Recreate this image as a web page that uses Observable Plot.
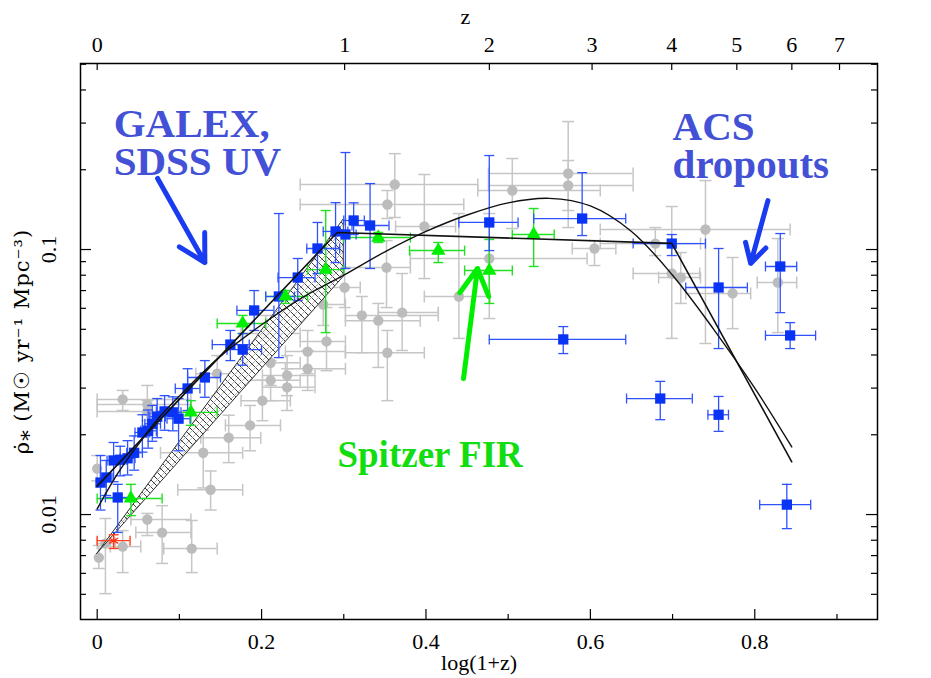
<!DOCTYPE html>
<html><head><meta charset="utf-8">
<script src="https://cdn.jsdelivr.net/npm/d3@7"></script>
<script src="https://cdn.jsdelivr.net/npm/@observablehq/plot@0.6"></script>
<style>
html,body{margin:0;padding:0;background:#fff;}
</style></head><body><div id="chart"></div>
<script>
// ---------- axis ticks ----------
const xMajorTicks = [0, 0.2, 0.4, 0.6, 0.8];
const xMajorLabels = ["0", "0.2", "0.4", "0.6", "0.8"];
const xMinorTicks = [0.1, 0.3, 0.5, 0.7, 0.9];
const zTicks = [0, 1, 2, 3, 4, 5, 6, 7];
const yMajorTicks = [0.01, 0.1];
const yMajorLabels = ["0.01", "0.1"];
const yMinorTicks = [0.005,0.006,0.007,0.008,0.009,0.02,0.03,0.04,0.05,0.06,0.07,0.08,0.09,0.2,0.3,0.4,0.5];

// ---------- grey compilation points (log(1+z), rho) ----------
const grayX   = [0.000,0.002,0.010,0.031,0.061,0.079,0.115,0.129,0.138,0.031,0.061,0.061,0.146,0.160,0.186,0.201,0.205,0.211,0.211,0.231,0.231,0.256,0.256,0.279,0.275,0.301,0.322,0.342,0.352,0.353,0.371,0.353,0.362,0.398,0.440,0.477,0.505,0.573,0.573,0.605,0.679,0.699,0.710,0.740,0.773,0.828];
const grayY   = [0.0149,0.00688,0.00778,0.00757,0.00958,0.00855,0.00744,0.0171,0.0124,0.0272,0.0260,0.0245,0.0340,0.0195,0.0217,0.0269,0.0482,0.0374,0.0321,0.0335,0.0302,0.0412,0.0355,0.0450,0.0620,0.0719,0.0564,0.0539,0.0855,0.0408,0.0578,0.1479,0.1759,0.1221,0.0665,0.0925,0.1670,0.1936,0.1744,0.1009,0.1053,0.0812,0.0784,0.1190,0.0683,0.0751];
const grayXlo = [0.000,0.002,0.000,0.016,0.041,0.047,0.081,0.077,0.098,0.000,0.000,0.000,0.120,0.126,0.156,0.175,0.175,0.175,0.180,0.201,0.201,0.229,0.229,0.247,0.247,0.247,0.302,0.302,0.300,0.302,0.342,0.247,0.247,0.363,0.398,0.381,0.463,0.476,0.476,0.578,0.612,0.652,0.683,0.612,0.716,0.803];
const grayXhi = [0.000,0.002,0.022,0.053,0.114,0.114,0.146,0.177,0.177,0.114,0.114,0.114,0.175,0.199,0.223,0.235,0.247,0.247,0.247,0.265,0.265,0.302,0.302,0.302,0.302,0.320,0.415,0.393,0.381,0.398,0.415,0.446,0.463,0.436,0.478,0.596,0.612,0.652,0.652,0.631,0.734,0.733,0.734,0.843,0.795,0.851];
const grayYlo = [0.0134,0.00626,0.00503,0.00604,0.00833,0.00654,0.00604,0.0126,0.0104,0.0247,0.0226,0.0217,0.0281,0.0157,0.0174,0.0226,0.0398,0.0307,0.0269,0.0281,0.0247,0.0340,0.0294,0.0349,0.0517,0.0604,0.0408,0.0359,0.0604,0.0269,0.0416,0.1309,0.1321,0.0777,0.0462,0.0549,0.1200,0.1210,0.1403,0.0870,0.0949,0.0462,0.0626,0.0442,0.0503,0.0486];
const grayYhi = [0.0167,0.00764,0.00966,0.00870,0.0101,0.0108,0.00950,0.0208,0.0146,0.0294,0.0307,0.0269,0.0398,0.0237,0.0258,0.0321,0.0564,0.0450,0.0381,0.0398,0.0355,0.0495,0.0416,0.0604,0.0732,0.0855,0.0665,0.0626,0.1081,0.0495,0.0812,0.1670,0.230,0.1919,0.1367,0.1367,0.2205,0.304,0.2167,0.1081,0.1210,0.1453,0.0974,0.1821,0.0933,0.1100];

// ---------- blue UV points (GALEX, SDSS, ACS dropouts) ----------
const blueX   = [0.004,0.011,0.020,0.028,0.037,0.025,0.045,0.055,0.062,0.067,0.073,0.082,0.092,0.099,0.110,0.131,0.162,0.177,0.191,0.221,0.244,0.268,0.290,0.302,0.312,0.332,0.477,0.590,0.567,0.699,0.756,0.831,0.843,0.685,0.756,0.839];
const blueY   = [0.0132,0.0138,0.0160,0.0161,0.0163,0.0116,0.0171,0.0204,0.0207,0.0220,0.0234,0.0245,0.0243,0.0230,0.0299,0.0329,0.0438,0.0419,0.0589,0.0665,0.0784,0.1009,0.1170,0.1140,0.1287,0.1232,0.1265,0.1309,0.0458,0.1053,0.0719,0.0863,0.0474,0.0274,0.0238,0.0109];
const blueXlo = [0.000,0.004,0.012,0.020,0.028,0.010,0.036,0.046,0.053,0.058,0.064,0.072,0.082,0.085,0.095,0.110,0.140,0.158,0.170,0.205,0.220,0.255,0.275,0.290,0.300,0.310,0.440,0.531,0.477,0.652,0.716,0.813,0.813,0.644,0.743,0.806];
const blueXhi = [0.011,0.018,0.028,0.036,0.046,0.040,0.055,0.064,0.072,0.077,0.083,0.092,0.102,0.113,0.125,0.150,0.185,0.200,0.215,0.240,0.265,0.295,0.305,0.315,0.325,0.355,0.512,0.643,0.643,0.740,0.791,0.851,0.874,0.724,0.768,0.868];
const blueYlo = [0.0104,0.0118,0.0133,0.0140,0.0141,0.00856,0.0147,0.0172,0.0178,0.0189,0.0195,0.0208,0.0207,0.0174,0.0247,0.0277,0.0381,0.0366,0.0495,0.0391,0.0642,0.0812,0.0893,0.0848,0.1140,0.0848,0.0991,0.1129,0.0405,0.0949,0.0423,0.0578,0.0423,0.0228,0.0206,0.00885];
const blueYhi = [0.0167,0.0160,0.0187,0.0181,0.0190,0.0130,0.0198,0.0238,0.0248,0.0258,0.0274,0.0281,0.0278,0.0274,0.0355,0.0381,0.0495,0.0482,0.0700,0.1367,0.0925,0.1265,0.1503,0.2323,0.1500,0.1774,0.2263,0.1950,0.0512,0.1139,0.1009,0.1149,0.0530,0.0318,0.0279,0.0130];

// ---------- green Spitzer FIR points ----------
const greenX   = [0.041,0.114,0.177,0.229,0.278,0.342,0.415,0.477,0.531];
const greenY   = [0.0115,0.0243,0.0526,0.0665,0.0840,0.1110,0.0991,0.0833,0.1140];
const greenXlo = [0.000,0.079,0.146,0.205,0.256,0.300,0.380,0.447,0.505];
const greenXhi = [0.079,0.146,0.205,0.256,0.300,0.381,0.447,0.505,0.556];
const greenYlo = [0.00991,0.0217,0.0482,0.0626,0.0486,0.1063,0.0893,0.0626,0.0863];
const greenYhi = [0.0130,0.0269,0.0564,0.0700,0.1403,0.1160,0.1063,0.1091,0.1428];

// ---------- red local point ----------
const redX = [0.020], redY = [0.00797], redXlo = [0.000], redXhi = [0.040], redYlo = [0.00745], redYhi = [0.00839];

// ---------- fits ----------
const fitAX = [0, 0.292, 0.699, 0.845];
const fitAY = [0.0128, 0.116, 0.1055, 0.0158];
const fitBX = [0,0.025,0.05,0.075,0.1,0.15,0.2,0.25,0.3,0.35,0.4,0.45,0.5,0.55,0.6,0.65,0.7,0.75,0.8,0.845];
const fitBY = [0.0105,0.0143,0.0184,0.0232,0.0280,0.0396,0.052,0.066,0.080,0.098,0.117,0.135,0.150,0.156,0.146,0.117,0.080,0.050,0.030,0.018];
const bandX  = [0, 0.3];
const bandLo = [0.0071, 0.079];
const bandHi = [0.0071, 0.130];

// ---------- annotations ----------
const noteText  = ["GALEX,", "SDSS UV", "ACS", "dropouts", "Spitzer FIR"];
const noteX     = [0.020, 0.020, 0.700, 0.700, 0.2923];
const noteY     = [0.343, 0.247, 0.334, 0.240, 0.0190];
const noteColor = ["#4351d6", "#4351d6", "#4351d6", "#4351d6", "#11dd11"];
const noteSize  = [41, 41, 41, 41, 37];
const arrowX1 = [0.0735, 0.816, 0.4457];
const arrowY1 = [0.1854, 0.153, 0.0326];
const arrowX2 = [0.131, 0.795, 0.4627];
const arrowY2 = [0.0893, 0.0886, 0.0848];
const arrowColor = ["#1a3cf0", "#1a3cf0", "#00ee00"];
const zLabelX = 0.448;
const yTitle = "ρ̇⁎ (M☉ yr⁻¹ Mpc⁻³)";

// ---------- build tables ----------
const rows = (X,Y,XL,XH,YL,YH) => X.map((x,i)=>({x, y:Y[i], xlo:XL[i], xhi:XH[i], ylo:YL[i], yhi:YH[i]}));
const gray  = rows(grayX,grayY,grayXlo,grayXhi,grayYlo,grayYhi);
const blue  = rows(blueX,blueY,blueXlo,blueXhi,blueYlo,blueYhi);
const green = rows(greenX,greenY,greenXlo,greenXhi,greenYlo,greenYhi);
const red   = rows(redX,redY,redXlo,redXhi,redYlo,redYhi);
const fitA = fitAX.map((x,i)=>({x, y:fitAY[i]}));
const fitB = fitBX.map((x,i)=>({x, y:fitBY[i]}));
const band = bandX.map((x,i)=>({x, lo:bandLo[i], hi:bandHi[i]}));
const notes = noteText.map((t,i)=>({t, x:noteX[i], y:noteY[i], c:noteColor[i], s:noteSize[i]}));
const arrows = arrowX1.map((x,i)=>({x1:x, y1:arrowY1[i], x2:arrowX2[i], y2:arrowY2[i], c:arrowColor[i]}));

const hcap = (w) => ({draw(ctx){ ctx.moveTo(-w,0); ctx.lineTo(w,0); }});
const vcap = (w) => ({draw(ctx){ ctx.moveTo(0,-w); ctx.lineTo(0,w); }});

function errMarks(data, color, sw, cw) {
  const hx = data.filter(d => d.xhi > d.xlo);
  const o = {fill:"none", stroke:color, strokeWidth:sw};
  return [
    Plot.ruleY(hx, {y:"y", x1:"xlo", x2:"xhi", stroke:color, strokeWidth:sw}),
    Plot.ruleX(data, {x:"x", y1:"ylo", y2:"yhi", stroke:color, strokeWidth:sw}),
    Plot.dot(data, {x:"x", y:"ylo", symbol:hcap(cw), ...o}),
    Plot.dot(data, {x:"x", y:"yhi", symbol:hcap(cw), ...o}),
    Plot.dot(hx, {x:"xlo", y:"y", symbol:vcap(cw), ...o}),
    Plot.dot(hx, {x:"xhi", y:"y", symbol:vcap(cw), ...o})
  ];
}

const W = 931, H = 678;
const mL = 80, mR = 54, mT = 63, mB = 59;
const fw = W - mL - mR, fh = H - mT - mB;
const serif = "'Liberation Serif','DejaVu Serif',serif";
const wideSerif = "'DejaVu Serif','Liberation Serif',serif";

const chart = Plot.plot({
  width: W, height: H,
  marginLeft: mL, marginRight: mR, marginTop: mT, marginBottom: mB,
  x: {domain: [-0.0203, 0.9493], axis: null},
  y: {type: "log", domain: [0.004018, 0.5034], axis: null},
  style: {fontFamily: serif, background: "white", color: "black"},
  marks: [
    // grey data
    ...errMarks(gray, "#c6c6c6", 1.5, 6),
    Plot.dot(gray, {x:"x", y:"y", r:5.2, fill:"#bcbcbc", stroke:"none"}),
    // hatched band
    Plot.areaY(band, {x:"x", y1:"lo", y2:"hi", fill:"url(#hatch)", stroke:"#333", strokeWidth:1}),
    // green / blue / red data
    ...errMarks(green, "#22e022", 1.4, 5),
    ...errMarks(blue, "#2f52ff", 1.3, 5),
    ...errMarks(red, "#ff4020", 1.4, 5),
    Plot.dot(blue, {x:"x", y:"y", symbol:"square", r:5.8, fill:"#0a34f5", stroke:"none"}),
    Plot.dot(green, {x:"x", y:"y", symbol:"triangle", r:5.3, fill:"#00ee00", stroke:"none"}),
    Plot.dot(red, {x:"x", y:"y", symbol:"asterisk", r:5, stroke:"#ff3010", strokeWidth:1.3}),
    // fits
    Plot.line(fitA, {x:"x", y:"y", stroke:"#111", strokeWidth:1.6}),
    Plot.line(fitB, {x:"x", y:"y", stroke:"#111", strokeWidth:1.4, curve:"catmull-rom"}),
    // annotations
    Plot.arrow(arrows, {x1:"x1", y1:"y1", x2:"x2", y2:"y2", stroke:"c", strokeWidth:5, headLength:9, headAngle:58}),
    Plot.text(notes, {x:"x", y:"y", text:"t", fill:"c", fontSize:"s", fontWeight:"bold", fontFamily:serif, textAnchor:"start", lineAnchor:"top"}),
    // frame & ticks
    Plot.frame({stroke:"black", strokeWidth:1.5}),
    Plot.tickX(xMajorTicks, {x:d=>d, insetTop: fh-10, stroke:"black", strokeWidth:1.2}),
    Plot.tickX(xMinorTicks, {x:d=>d, insetTop: fh-5, stroke:"black", strokeWidth:1.2}),
    Plot.tickX(zTicks, {x:z=>Math.log10(1+z), insetBottom: fh-7, stroke:"black", strokeWidth:1.2}),
    Plot.tickY(yMajorTicks, {y:d=>d, insetRight: fw-11, stroke:"black", strokeWidth:1.2}),
    Plot.tickY(yMinorTicks, {y:d=>d, insetRight: fw-6, stroke:"black", strokeWidth:1.2}),
    Plot.tickY(yMajorTicks, {y:d=>d, insetLeft: fw-11, stroke:"black", strokeWidth:1.2}),
    Plot.tickY(yMinorTicks, {y:d=>d, insetLeft: fw-6, stroke:"black", strokeWidth:1.2}),
    // tick labels
    Plot.text(xMajorTicks, {x:d=>d, text:(d,i)=>xMajorLabels[i], frameAnchor:"bottom", lineAnchor:"middle", textAnchor:"middle", dy:22, fontSize:22, fontFamily:serif}),
    Plot.text(zTicks, {x:z=>Math.log10(1+z), text:z=>String(z), frameAnchor:"top", lineAnchor:"middle", textAnchor:"middle", dy:-19, fontSize:22, fontFamily:serif}),
    Plot.text(yMajorTicks, {y:d=>d, text:(d,i)=>yMajorLabels[i], frameAnchor:"left", lineAnchor:"middle", textAnchor:"middle", dx:-32, rotate:-90, fontSize:22, fontFamily:serif}),
    // axis titles
    Plot.text(["log(1+z)"], {frameAnchor:"bottom", lineAnchor:"middle", textAnchor:"middle", dy:43, fontSize:22, fontFamily:serif}),
    Plot.text(["z"], {x:()=>zLabelX, frameAnchor:"top", lineAnchor:"middle", textAnchor:"middle", dy:-47, fontSize:22, fontFamily:serif}),
    Plot.text([yTitle], {frameAnchor:"left", lineAnchor:"middle", textAnchor:"middle", dx:-58, rotate:-90, fontSize:21, fontFamily:wideSerif})
  ]
});

// hatch pattern definition
const svg = d3.select(chart);
const defs = svg.insert("defs", ":first-child");
const pat = defs.append("pattern").attr("id","hatch").attr("patternUnits","userSpaceOnUse").attr("width",7).attr("height",7);
pat.append("rect").attr("width",7).attr("height",7).attr("fill","white").attr("fill-opacity",0.8);
pat.append("path").attr("d","M0,0 L7,7 M-1,6 L1,8 M6,-1 L8,1").attr("stroke","#3a3a3a").attr("stroke-width",1);
pat.append("path").attr("d","M7,0 L0,7 M-1,1 L1,-1 M6,8 L8,6").attr("stroke","#9a9a9a").attr("stroke-width",0.7);

// widen the y-title spacing a little, like the original plotting font
svg.selectAll("text").filter(function(){ return this.textContent === yTitle; }).attr("letter-spacing", "1px");

document.getElementById("chart").appendChild(chart);
</script>
</body></html>
